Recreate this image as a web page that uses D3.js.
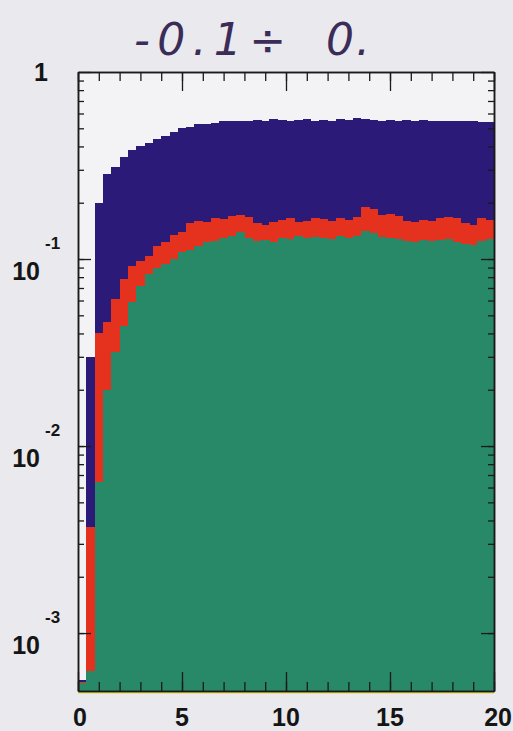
<!DOCTYPE html>
<html>
<head>
<meta charset="utf-8">
<script src="https://cdn.jsdelivr.net/npm/d3@7"></script>
<style>
  body { margin: 0; background: #e9e9ee; }
  svg { display: block; }
</style>
</head>
<body>
<div id="chart"></div>
<script>
// 50 bins of width 0.4 between 0 and 20
var binEdges = d3.range(0, 20, 0.4)
var binWidth = 0.4

// top of the blue histogram (all entries)
var totalLevel = [0.00056, 0.030, 0.20, 0.285, 0.31, 0.35, 0.385, 0.40, 0.415, 0.44,
  0.455, 0.475, 0.50, 0.51, 0.525, 0.53, 0.535, 0.545, 0.55, 0.545,
  0.55, 0.555, 0.55, 0.56, 0.555, 0.55, 0.555, 0.56, 0.55, 0.555,
  0.55, 0.56, 0.555, 0.565, 0.56, 0.555, 0.55, 0.555, 0.55, 0.555,
  0.55, 0.555, 0.55, 0.545, 0.55, 0.545, 0.55, 0.545, 0.54, 0.54]

// top of the red histogram
var redLevel = [0.00055, 0.0037, 0.040, 0.046, 0.061, 0.078, 0.092, 0.097, 0.104, 0.118,
  0.123, 0.135, 0.14, 0.155, 0.16, 0.158, 0.165, 0.163, 0.17, 0.172,
  0.168, 0.155, 0.152, 0.158, 0.162, 0.165, 0.158, 0.16, 0.165, 0.163,
  0.16, 0.166, 0.162, 0.168, 0.19, 0.185, 0.172, 0.175, 0.17, 0.16,
  0.158, 0.162, 0.16, 0.166, 0.168, 0.165, 0.155, 0.152, 0.165, 0.162]

// top of the green histogram
var greenLevel = [0.00054, 0.00063, 0.0064, 0.020, 0.032, 0.044, 0.059, 0.072, 0.083, 0.09,
  0.094, 0.10, 0.109, 0.112, 0.118, 0.123, 0.125, 0.13, 0.133, 0.14,
  0.13, 0.125, 0.127, 0.124, 0.13, 0.128, 0.132, 0.129, 0.131, 0.13,
  0.128, 0.132, 0.13, 0.133, 0.141, 0.138, 0.131, 0.13, 0.128, 0.125,
  0.124, 0.126, 0.125, 0.127, 0.128, 0.123, 0.12, 0.119, 0.125, 0.128]

var xTicks = [0, 5, 10, 15, 20]
var yDecades = [1, 0.1, 0.01, 0.001]
var yLabels = ["", "-1", "-2", "-3"]
var titleParts = ["-0.1\u00f7", "0."]

var W = 513, H = 731
var margin = { top: 72, right: 19, bottom: 40, left: 78 }
var width = W - margin.left - margin.right
var height = H - margin.top - margin.bottom

var svg = d3.select("#chart")
  .append("svg")
    .attr("width", W)
    .attr("height", H)

// handwritten-looking title, two pieces
svg.append("g")
  .selectAll("text")
  .data(titleParts).enter()
  .append("text")
    .attr("x", function (d, i) { return i == 0 ? 134 : 326 })
    .attr("y", 55)
    .attr("textLength", function (d, i) { return i == 0 ? 152 : 44 })
    .attr("lengthAdjust", "spacing")
    .style("font-family", "'DejaVu Sans', sans-serif")
    .style("font-style", "italic")
    .style("font-weight", "300")
    .style("font-size", "44px")
    .style("fill", "#3b2c58")
    .text(function (d) { return d })

var g = svg.append("g")
  .attr("transform", "translate(" + margin.left + "," + margin.top + ")")

var x = d3.scaleLinear().domain([0, 20]).range([0, width])
var y = d3.scaleLog().domain([0.00049, 1]).range([height, 0]).clamp(true)

g.append("rect")
  .attr("width", width).attr("height", height)
  .style("fill", "#f3f3f6")

function drawHist(levels, color) {
  g.append("g")
    .selectAll("rect")
    .data(levels).enter()
    .append("rect")
      .attr("x", function (d, i) { return x(binEdges[i]) })
      .attr("width", function (d, i) { return x(binEdges[i] + binWidth) - x(binEdges[i]) + 0.5 })
      .attr("y", function (d) { return y(d) })
      .attr("height", function (d) { return height - y(d) })
      .style("fill", color)
      .attr("shape-rendering", "crispEdges")
}

drawHist(totalLevel, "#2b1a78")
drawHist(redLevel, "#e4321f")
drawHist(greenLevel, "#278967")

// yellowish line under the bottom axis
g.append("line")
  .attr("x1", 0).attr("x2", width)
  .attr("y1", height + 2).attr("y2", height + 2)
  .style("stroke", "#efe27a").style("stroke-width", 2)

// frame axes, ticks inward
var xMinor = d3.range(0, 21, 1)
var xAxisB = d3.axisBottom(x).tickValues(xMinor).tickSizeInner(-9).tickSizeOuter(0).tickFormat("")
var xAxisT = d3.axisTop(x).tickValues(xMinor).tickSizeInner(-9).tickSizeOuter(0).tickFormat("")
var yMinor = []
yDecades.slice(1).forEach(function (d) {
  d3.range(1, 10).forEach(function (k) { if (d * k >= 0.00049) yMinor.push(d * k) })
})
var yAxisL = d3.axisLeft(y).tickValues(yMinor).tickSizeInner(-6).tickSizeOuter(0).tickFormat("")
var yAxisR = d3.axisRight(y).tickValues(yMinor).tickSizeInner(-6).tickSizeOuter(0).tickFormat("")

g.append("g").attr("transform", "translate(0," + height + ")").call(xAxisB)
g.append("g").call(xAxisT)
g.append("g").call(yAxisL)
g.append("g").attr("transform", "translate(" + width + ",0)").call(yAxisR)

// longer major ticks
g.append("g").attr("transform", "translate(0," + height + ")")
  .call(d3.axisBottom(x).tickValues(xTicks).tickSizeInner(-19).tickSizeOuter(0).tickFormat(""))
g.append("g")
  .call(d3.axisTop(x).tickValues(xTicks).tickSizeInner(-19).tickSizeOuter(0).tickFormat(""))
g.append("g")
  .call(d3.axisLeft(y).tickValues(yDecades).tickSizeInner(-13).tickSizeOuter(0).tickFormat(""))
g.append("g").attr("transform", "translate(" + width + ",0)")
  .call(d3.axisRight(y).tickValues(yDecades).tickSizeInner(-13).tickSizeOuter(0).tickFormat(""))

g.selectAll(".domain").style("stroke", "#1a1a1a").style("stroke-width", 1.5)
g.selectAll(".tick line").style("stroke", "#1a1a1a").style("stroke-width", 1.3)

// x tick labels
g.append("g")
  .selectAll("text")
  .data(xTicks).enter()
  .append("text")
    .attr("x", function (d) { return x(d) })
    .attr("y", height + 35)
    .attr("text-anchor", function (d) { return d == 20 ? "end" : "middle" })
    .attr("dx", function (d) { return d == 20 ? 18 : (d == 0 ? 2 : 0) })
    .style("font-family", "'Liberation Sans', Arial, sans-serif")
    .style("font-weight", "bold")
    .style("font-size", "25px")
    .style("fill", "#151515")
    .text(function (d) { return d })

// y tick labels: 1, 10^-1, 10^-2, 10^-3
var yl = svg.append("g")
  .selectAll("g")
  .data(yDecades).enter()
  .append("g")
    .attr("transform", function (d) { return "translate(0," + (margin.top + y(d)) + ")" })

yl.append("text")
  .attr("x", function (d, i) { return i == 0 ? 48 : 40 })
  .attr("y", function (d, i) { return i == 0 ? 9 : 21 })
  .attr("text-anchor", "end")
  .style("font-family", "'Liberation Sans', Arial, sans-serif")
  .style("font-weight", "bold")
  .style("font-size", "25px")
  .style("fill", "#151515")
  .text(function (d, i) { return i == 0 ? "1" : "10" })

yl.append("text")
  .attr("x", 45)
  .attr("y", -10)
  .style("font-family", "'Liberation Sans', Arial, sans-serif")
  .style("font-weight", "bold")
  .style("font-size", "17px")
  .style("fill", "#151515")
  .text(function (d, i) { return yLabels[i] })
</script>
</body>
</html>
